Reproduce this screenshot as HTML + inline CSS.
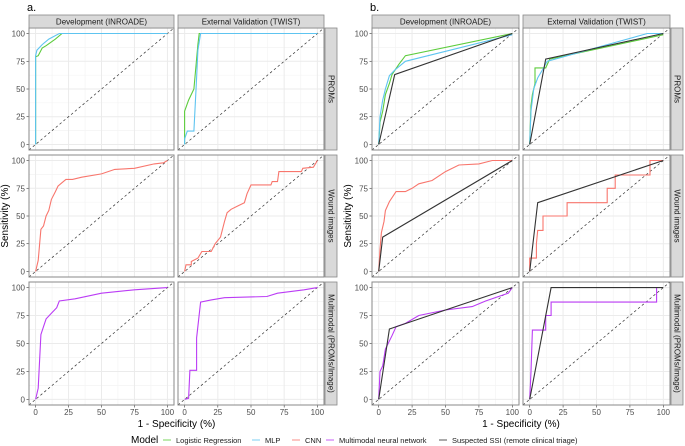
<!DOCTYPE html>
<html><head><meta charset="utf-8"><style>
html,body{margin:0;padding:0;background:#fff;}
svg{display:block;font-family:"Liberation Sans","DejaVu Sans",sans-serif;}
</style></head><body>
<svg id="s" width="685" height="446" xmlns="http://www.w3.org/2000/svg"></svg>
<script>
const s=document.getElementById('s');let h='';
const C={g:'#5ccc3c',b:'#5ec4f0',r:'#f8766d',p:'#bb3cf5',k:'#333333'};
const cols=[[29,174],[178,324],[372,519],[523,670]];
const rows=[[28,150],[155,277],[282,405]];
function panel(x0,x1,y0,y1,lines,showY,showX){
 const X=v=>x0+(v+5)/110*(x1-x0), Y=v=>y1-(v+5)/110*(y1-y0);
 h+=`<rect x="${x0}" y="${y0}" width="${x1-x0}" height="${y1-y0}" fill="#fff"/>`;
 for(let v=-12.5;v<=112.5;v+=25){ if(v>-5&&v<105){h+=`<line x1="${X(v)}" x2="${X(v)}" y1="${y0}" y2="${y1}" stroke="#f2f2f2" stroke-width="0.6"/><line y1="${Y(v)}" y2="${Y(v)}" x1="${x0}" x2="${x1}" stroke="#f2f2f2" stroke-width="0.6"/>`;}}
 for(let v=0;v<=100;v+=25){h+=`<line x1="${X(v)}" x2="${X(v)}" y1="${y0}" y2="${y1}" stroke="#ebebeb" stroke-width="1"/><line y1="${Y(v)}" y2="${Y(v)}" x1="${x0}" x2="${x1}" stroke="#ebebeb" stroke-width="1"/>`;
  if(showY)h+=`<line x1="${x0-2.5}" x2="${x0}" y1="${Y(v)}" y2="${Y(v)}" stroke="#333" stroke-width="0.6"/><text x="${x0-4}" y="${Y(v)+3}" font-size="8" fill="#4d4d4d" text-anchor="end">${v}</text>`;
  if(showX)h+=`<line y1="${y1}" y2="${y1+2.5}" x1="${X(v)}" x2="${X(v)}" stroke="#333" stroke-width="0.6"/><text x="${X(v)}" y="${y1+10}" font-size="8" fill="#4d4d4d" text-anchor="middle">${v}</text>`;}
 h+=`<line x1="${X(-5)}" y1="${Y(-5)}" x2="${X(105)}" y2="${Y(105)}" stroke="#333" stroke-width="0.7" stroke-dasharray="2.5,2.5"/>`;
 for(const [c,pts] of lines){h+=`<polyline fill="none" stroke="${C[c]}" stroke-width="1.1" points="${pts.map(p=>X(p[0]).toFixed(1)+','+Y(p[1]).toFixed(1)).join(' ')}"/>`;}
 h+=`<rect x="${x0}" y="${y0}" width="${x1-x0}" height="${y1-y0}" fill="none" stroke="#888" stroke-width="1"/>`;
}
const D=[
// a
[[['g',[[0,0],[0,79],[2,80],[5,87],[8,89],[15,95],[20,100],[100,100]]],['b',[[0,0],[0,80],[1,85],[5,90],[10,95],[18,100],[100,100]]]],
 [['g',[[0,0],[0,30],[3,40],[7,50],[10,90],[11,100],[100,100]]],['b',[[0,0],[0,5],[2,12],[7,12],[9,60],[10,85],[12,100],[100,100]]]]],
[[['r',[[0,0],[2,10],[4,38],[6,41],[8,50],[10,55],[12,65],[15,72],[17,77],[20,80],[23,83],[28,83],[35,85],[50,88],[60,92],[75,93],[90,97],[97,98],[100,100]]]],
 [['r',[[0,0],[1,6],[5,6],[5,9],[10,12],[13,18],[20,18],[23,25],[27,31],[30,45],[32,53],[35,56],[40,59],[45,62],[47,70],[50,78],[65,78],[66,81],[70,81],[71,90],[88,90],[89,93],[97,94],[100,100]]]]],
[[['p',[[0,0],[2,10],[4,58],[6,65],[8,72],[12,77],[16,82],[18,88],[30,90],[50,95],[75,98],[100,100]]]],
 [['p',[[0,0],[3,1],[4,26],[9,26],[9,55],[12,87],[20,89],[30,91],[62,92],[70,95],[90,98],[100,100]]]]],
// b
[[['g',[[0,0],[1,20],[3,30],[5,45],[8,55],[10,63],[15,72],[20,80],[100,100]]],['b',[[0,0],[1,25],[3,40],[5,50],[8,62],[12,67],[20,75],[100,99]]],['k',[[0,0],[12,63],[100,100]]]],
 [['g',[[0,0],[1,35],[2,45],[4,55],[4,69],[12,69],[15,77],[100,99]]],['b',[[0,0],[1,30],[3,50],[6,60],[10,68],[13,75],[88,100],[100,100]]],['k',[[0,0],[12,77],[100,100]]]]],
[[['r',[[0,0],[1,20],[2,35],[4,45],[5,55],[8,63],[13,72],[20,72],[25,75],[30,79],[40,82],[50,90],[60,96],[75,97],[85,100],[100,100]]],['k',[[0,0],[3,31],[100,100]]]],
 [['r',[[0,0],[0,12],[5,12],[5,25],[6,37],[10,37],[10,50],[28,50],[28,62],[58,62],[58,75],[64,75],[64,87],[90,87],[90,100],[100,100]]],['k',[[0,0],[6,62],[100,100]]]]],
[[['p',[[0,0],[1,25],[3,30],[5,45],[10,57],[13,65],[20,68],[30,75],[50,80],[70,83],[80,88],[97,95],[100,100]]],['k',[[0,0],[8,63],[50,80],[100,100]]]],
 [['p',[[0,0],[1,25],[2,62],[12,62],[12,75],[16,75],[16,87],[95,87],[95,100]]],['k',[[0,0],[16,100],[100,100]]]]]
];
const stripLab=['PROMs','Wound images','Multimodal (PROMs/Image)'];
for(let side=0;side<2;side++){
 for(let r=0;r<3;r++)for(let c=0;c<2;c++){
  const col=cols[side*2+c],row=rows[r];
  panel(col[0],col[1],row[0],row[1],D[side*3+r][c],c==0,r==2);
 }
 for(let c=0;c<2;c++){const col=cols[side*2+c];
  h+=`<rect x="${col[0]}" y="15" width="${col[1]-col[0]}" height="13" fill="#d9d9d9" stroke="#888" stroke-width="0.8"/><text x="${(col[0]+col[1])/2}" y="24.5" font-size="8" fill="#1a1a1a" text-anchor="middle">${c==0?'Development (INROADE)':'External Validation (TWIST)'}</text>`;}
 const sx=cols[side*2+1][1]+1;
 for(let r=0;r<3;r++){const row=rows[r];
  h+=`<rect x="${sx}" y="${row[0]}" width="12" height="${row[1]-row[0]}" fill="#d9d9d9" stroke="#888" stroke-width="0.8"/><text transform="translate(${sx+3.5},${(row[0]+row[1])/2}) rotate(90)" font-size="8" fill="#1a1a1a" text-anchor="middle">${stripLab[r]}</text>`;}
 const l=cols[side*2][0];
 h+=`<text x="${l-2}" y="11" font-size="11" fill="#000">${side?'b.':'a.'}</text>`;
 h+=`<text transform="translate(${l-21},216) rotate(-90)" font-size="10" fill="#000" text-anchor="middle">Sensitivity (%)</text>`;
 h+=`<text x="${(cols[side*2][0]+cols[side*2+1][1])/2}" y="427" font-size="10" fill="#000" text-anchor="middle">1 - Specificity (%)</text>`;
}
// legend
h+=`<text x="131" y="443" font-size="10" fill="#000">Model</text>`;
const L=[['g','Logistic Regression',163],['b','MLP',252],['r','CNN',292],['p','Multimodal neural network',326],['k','Suspected SSI (remote clinical triage)',439]];
for(const [c,t,x] of L){h+=`<line x1="${x}" x2="${x+8}" y1="440" y2="440" stroke="${C[c]}" stroke-opacity="0.55" stroke-width="1.5"/><text x="${x+13}" y="443" font-size="7.5" fill="#1a1a1a">${t}</text>`;}
s.innerHTML=h;
</script>
</body></html>
